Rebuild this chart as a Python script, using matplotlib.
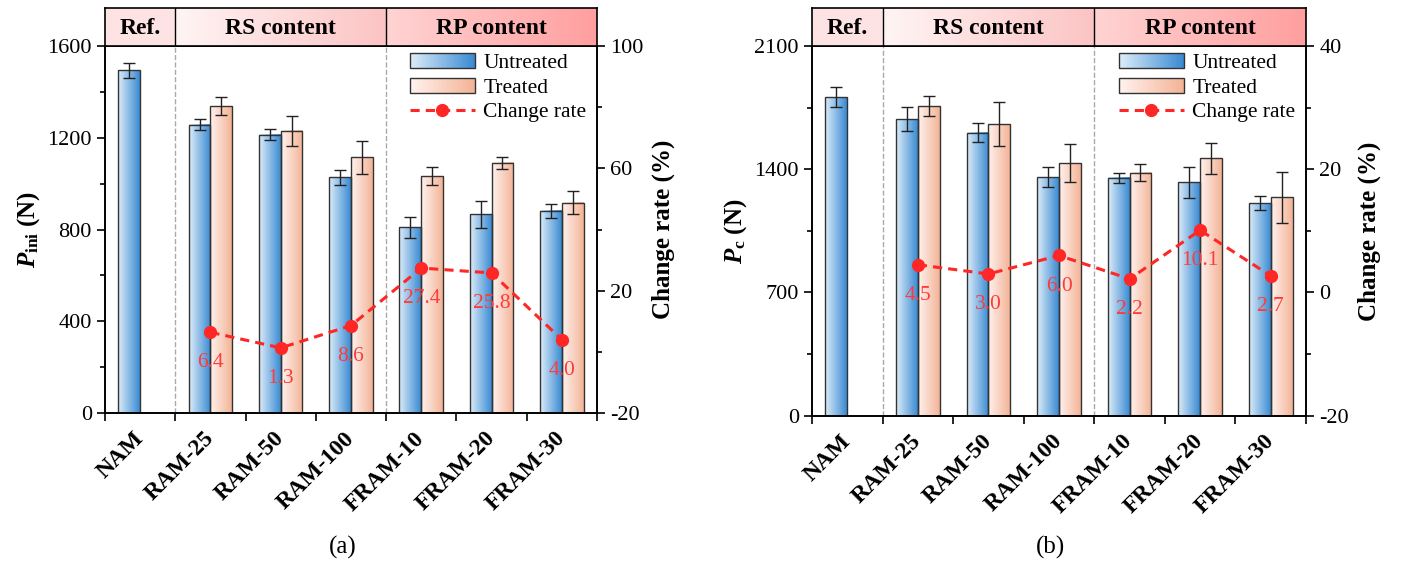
import numpy as np
import matplotlib
matplotlib.use("Agg")
import matplotlib.pyplot as plt
from matplotlib.colors import LinearSegmentedColormap
from matplotlib.patches import Rectangle
from matplotlib.lines import Line2D
from matplotlib.legend_handler import HandlerBase
from matplotlib.ticker import MultipleLocator

plt.rcParams["font.family"] = ["Liberation Serif", "DejaVu Serif"]
plt.rcParams["mathtext.fontset"] = "custom"
plt.rcParams["mathtext.rm"] = "Liberation Serif:bold"
plt.rcParams["mathtext.it"] = "Liberation Serif:italic:bold"
plt.rcParams["mathtext.bf"] = "Liberation Serif:bold"
plt.rcParams["axes.unicode_minus"] = False

# ---- data ----
mixes = ["NAM", "RAM-25", "RAM-50", "RAM-100", "FRAM-10", "FRAM-20", "FRAM-30"]
groups = ["Ref.", "RS content", "RP content"]

# (a) initial cracking load
pini_untreated = [1494, 1257, 1213, 1027, 809, 867, 882]
pini_untreated_err = [34, 23, 24, 34, 47, 59, 30]
pini_treated = [np.nan, 1337, 1231, 1114, 1033, 1091, 917]
pini_treated_err = [np.nan, 39, 65, 73, 41, 27, 51]
pini_rate = [np.nan, 6.4, 1.3, 8.6, 27.4, 25.8, 4.0]

# (b) peak load
pc_untreated = [1809, 1684, 1608, 1354, 1352, 1326, 1207]
pc_untreated_err = [57, 68, 53, 57, 29, 87, 41]
pc_treated = [np.nan, 1758, 1656, 1434, 1381, 1462, 1241]
pc_treated_err = [np.nan, 58, 125, 108, 47, 87, 144]
pc_rate = [np.nan, 4.5, 3.0, 6.0, 2.2, 10.1, 2.7]

cmap_u = LinearSegmentedColormap.from_list("u", ["#dcecf9", "#3b8bd3"])
cmap_t = LinearSegmentedColormap.from_list("t", ["#fff2ee", "#f3b497"])
red = "#ff2626"
BW = 0.31


class GradHandler(HandlerBase):
    def __init__(self, cmap):
        super().__init__()
        self.cmap = cmap

    def create_artists(self, legend, orig_handle, xdescent, ydescent,
                       width, height, fontsize, trans):
        arts = []
        n = 40
        for i in range(n):
            arts.append(Rectangle((-xdescent + width * i / n, -ydescent),
                                  width / n * 1.05, height,
                                  facecolor=self.cmap(i / (n - 1)),
                                  edgecolor="none", transform=trans))
        arts.append(Rectangle((-xdescent, -ydescent), width, height,
                              fill=False, edgecolor="#333333", lw=1,
                              transform=trans))
        return arts


def grad_bar(ax, x0, h, cmap):
    grad = np.linspace(0, 1, 64).reshape(1, -1)
    ax.imshow(grad, extent=[x0, x0 + BW, 0, h], aspect="auto", cmap=cmap,
              interpolation="bicubic", zorder=2, origin="lower")
    ax.add_patch(Rectangle((x0, 0), BW, h, fill=False, edgecolor="#333333",
                           lw=1, zorder=3))


def header(fig, pos):
    hax = fig.add_axes(pos)
    hax.set_xlim(-0.5, 6.5)
    hax.set_ylim(0, 1)
    cells = [(-0.5, 0.5, "#fde3e3", "#fde3e3"),
             (0.5, 3.5, "#fff4f4", "#fcc4c4"),
             (3.5, 6.5, "#ffd3d3", "#ff9f9f")]
    for (x0, x1, c0, c1), name in zip(cells, groups):
        cm = LinearSegmentedColormap.from_list(name, [c0, c1])
        hax.imshow(np.linspace(0, 1, 64).reshape(1, -1), extent=[x0, x1, 0, 1],
                   aspect="auto", cmap=cm, interpolation="bicubic")
        hax.text((x0 + x1) / 2, 0.47, name, ha="center", va="center",
                 fontsize=17, fontweight="bold")
    for x in (0.5, 3.5):
        hax.axvline(x, color="black", lw=1)
    hax.set_xticks([])
    hax.set_yticks([])
    for s in hax.spines.values():
        s.set_linewidth(1.2)
    return hax


def draw_panel(fig, pos, untreated, u_err, treated, t_err, rate,
               ylim, ymaj, ymin, rlim, rmaj, rmin, ylabel, tag):
    ax = fig.add_axes(pos)
    x = np.arange(len(mixes))
    for i in x:
        grad_bar(ax, i - BW, untreated[i], cmap_u)
        if not np.isnan(treated[i]):
            grad_bar(ax, i, treated[i], cmap_t)
    ax.errorbar(x - BW / 2, untreated, yerr=u_err, fmt="none", ecolor="#222222",
                elinewidth=1, capsize=4.5, capthick=1, zorder=4)
    ax.errorbar(x + BW / 2, treated, yerr=t_err, fmt="none", ecolor="#222222",
                elinewidth=1, capsize=4.5, capthick=1, zorder=4)
    for xv in (0.5, 3.5):
        ax.axvline(xv, color="#aaaaaa", ls="--", lw=1, zorder=1)

    ax.set_xlim(-0.5, 6.5)
    ax.set_ylim(*ylim)
    ax.yaxis.set_major_locator(MultipleLocator(ymaj))
    ax.yaxis.set_minor_locator(MultipleLocator(ymin))
    ax.set_xticks(np.arange(-0.5, 7, 1))
    ax.set_xticklabels([])
    ax.set_xticks(x, minor=True)
    ax.set_xticklabels(mixes, minor=True, rotation=45, ha="right",
                       va="center", rotation_mode="anchor",
                       fontsize=17, fontweight="bold")
    ax.tick_params(axis="x", which="minor", length=0, pad=16)
    ax.tick_params(axis="both", which="major", direction="out", length=6,
                   width=1.2, labelsize=16)
    ax.tick_params(axis="y", which="minor", direction="out", length=3.5,
                   width=1.2)
    ax.set_ylabel(ylabel, fontsize=18, fontweight="bold", labelpad=4)
    for s in ax.spines.values():
        s.set_linewidth(1.2)

    rax = ax.twinx()
    rax.plot(x, rate, ls="--", color=red, lw=2.2, marker="o", ms=8.5,
             dashes=(3, 2), zorder=5)
    for xi, r in zip(x, rate):
        if not np.isnan(r):
            rax.annotate(f"{r:.1f}", (xi, r), xytext=(0, -22),
                         textcoords="offset points", ha="center", va="center",
                         color="#ff3a3a", fontsize=15.5)
    rax.set_ylim(*rlim)
    rax.set_yticks(np.arange(rlim[0], rlim[1] + 1, rmaj))
    rax.set_yticks(np.arange(rlim[0], rlim[1] + 1, rmin), minor=True)
    rax.tick_params(axis="y", which="major", direction="out", length=6,
                    width=1.2, labelsize=16)
    rax.tick_params(axis="y", which="minor", direction="out", length=3.5,
                    width=1.2)
    rax.set_ylabel("Change rate (%)", fontsize=18, fontweight="bold",
                   labelpad=6)
    for s in rax.spines.values():
        s.set_linewidth(1.2)

    h_u = Rectangle((0, 0), 1, 1)
    h_t = Rectangle((0, 0), 1, 1)
    h_r = Line2D([], [], ls="--", color=red, lw=2.2, marker="o", ms=8.5,
                 dashes=(3, 2))
    rax.legend([h_u, h_t, h_r], ["Untreated", "Treated", "Change rate"],
               handler_map={h_u: GradHandler(cmap_u), h_t: GradHandler(cmap_t)},
               loc="upper right", bbox_to_anchor=(1.005, 1.015), frameon=False,
               fontsize=15.5, handlelength=3.0, handleheight=0.7,
               labelspacing=0.2, handletextpad=0.4, borderaxespad=0.2)

    header(fig, [pos[0], pos[1] + pos[3], pos[2], 0.067])
    fig.text(pos[0] + pos[2] / 2 - 0.006, 0.04, tag, ha="center", va="center",
             fontsize=18)
    return ax


fig = plt.figure(figsize=(14.02, 5.70), dpi=100)

draw_panel(fig, [0.0749, 0.2754, 0.3509, 0.6439],
           pini_untreated, pini_untreated_err, pini_treated, pini_treated_err,
           pini_rate, (0, 1600), 400, 200, (-20, 100), 40, 20,
           r"$P_{\mathrm{ini}}$ (N)", "(a)")
draw_panel(fig, [0.5792, 0.2707, 0.3523, 0.6486],
           pc_untreated, pc_untreated_err, pc_treated, pc_treated_err,
           pc_rate, (0, 2100), 700, 350, (-20, 40), 20, 10,
           r"$P_{\mathrm{c}}$ (N)", "(b)")

fig.savefig("out.png", dpi=100)
